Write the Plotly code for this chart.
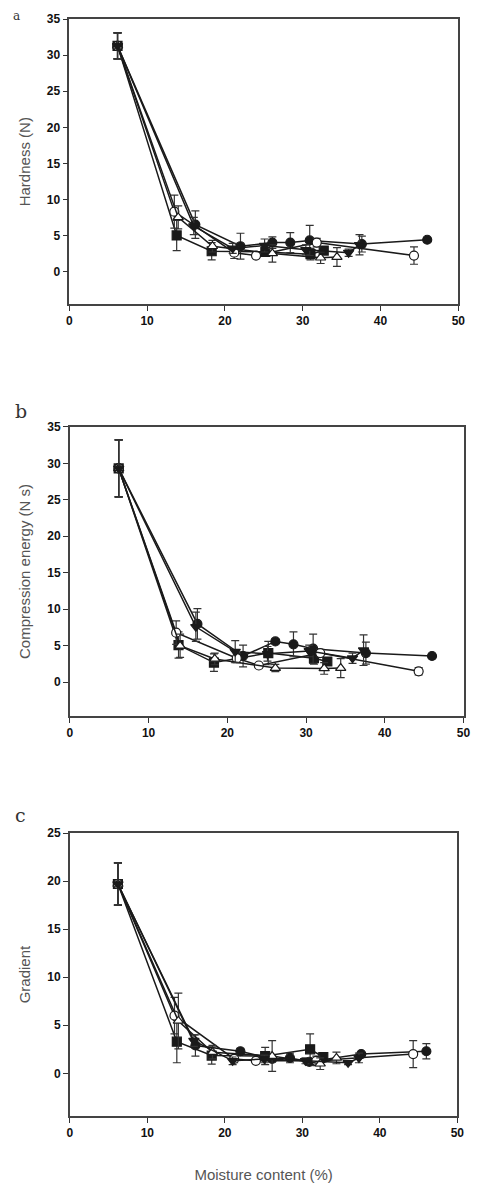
import plotly.graph_objects as go

# ---------------- data ----------------
# series x (moisture content, %)
x_sq = [6.2, 13.8, 18.3, 25.2, 31.0, 32.7]
x_ci = [6.2, 16.2, 22.0, 26.1, 28.4, 30.9, 37.6, 46.0]
x_oc = [6.2, 13.5, 21.2, 24.0, 31.8, 44.3]
x_ot = [6.2, 14.0, 18.4, 26.1, 32.3, 34.4]
x_dt = [6.2, 16.0, 21.0, 25.1, 30.4, 35.9, 37.3]

# panel a: Hardness (N)
a_sq = [31.3, 5.0, 2.8, 2.7, 2.4, 2.9]
a_sq_e = [1.8, 2.1, 1.2, 0.6, 0.8, 0.5]
a_ci = [31.3, 6.5, 3.5, 4.0, 4.0, 4.3, 3.8, 4.4]
a_ci_e = [1.8, 1.9, 1.8, 0.8, 1.4, 2.1, 1.1, 0.3]
a_oc = [31.3, 8.3, 2.6, 2.2, 4.0, 2.2]
a_oc_e = [1.8, 2.3, 0.8, 0.3, 0.6, 1.2]
a_ot = [31.3, 7.5, 3.5, 2.5, 1.9, 2.0]
a_ot_e = [1.8, 1.6, 0.8, 1.2, 0.8, 1.3]
a_dt = [31.3, 6.3, 3.2, 3.6, 3.0, 2.6, 3.7]
a_dt_e = [1.8, 1.2, 0.7, 0.9, 0.7, 0.5, 1.4]

# panel b: Compression energy (N s)
b_sq = [29.3, 5.1, 2.7, 4.0, 3.3, 2.85]
b_sq_e = [3.9, 1.8, 1.2, 1.6, 0.8, 0.4]
b_ci = [29.3, 8.0, 3.6, 5.6, 5.2, 4.6, 4.0, 3.6]
b_ci_e = [3.9, 2.1, 1.5, 0.3, 1.7, 2.0, 1.5, 0.3]
b_oc = [29.3, 6.8, 3.3, 2.3, 4.0, 1.5]
b_oc_e = [3.9, 1.6, 0.6, 0.3, 0.5, 0.5]
b_ot = [29.3, 5.0, 3.2, 1.95, 1.9, 1.95]
b_ot_e = [3.9, 1.6, 0.8, 0.5, 0.8, 1.3]
b_dt = [29.3, 7.6, 4.2, 3.9, 4.3, 3.3, 4.4]
b_dt_e = [3.9, 2.0, 1.5, 1.0, 0.8, 0.7, 2.1]

# panel c: Gradient
c_sq = [19.7, 3.3, 1.85, 1.8, 2.5, 1.7]
c_sq_e = [2.2, 2.2, 0.9, 0.9, 1.6, 0.3]
c_ci = [19.7, 2.9, 2.3, 1.5, 1.6, 1.2, 2.0, 2.3]
c_ci_e = [2.2, 1.1, 0.3, 0.3, 0.5, 0.3, 0.2, 0.8]
c_oc = [19.7, 6.0, 1.5, 1.3, 1.3, 2.0]
c_oc_e = [2.2, 1.9, 0.4, 0.2, 0.5, 1.4]
c_ot = [19.7, 5.45, 2.2, 1.8, 1.0, 1.6]
c_ot_e = [2.2, 2.9, 0.7, 1.6, 0.6, 0.6]
c_dt = [19.7, 3.4, 1.3, 1.5, 1.3, 1.1, 1.6]
c_dt_e = [2.2, 0.6, 0.4, 0.4, 0.3, 0.2, 0.5]

y_titles = ["Hardness (N)", "Compression energy (N s)", "Gradient"]
x_title = "Moisture content (%)"
panel_labels = ["a", "b", "c"]
x_ticks = [0, 10, 20, 30, 40, 50]
y_ticks_ab = [0, 5, 10, 15, 20, 25, 30, 35]
y_ticks_c = [0, 5, 10, 15, 20, 25]

# ---------------- layout geometry (pixels) ----------------
W, H = 481, 1184
boxes = [  # left, right, top, bottom in px
    (67.7, 465.0, 12.3, 299.0),
    (68.3, 470.3, 422.3, 713.3),
    (68.3, 464.0, 831.0, 1115.7),
]
y_ranges = [[-4.55, 35], [-4.63, 35], [-4.45, 25]]

LINE = "#1a1a1a"
ERR = "#333333"

styles = [
    dict(symbol="square", fill=LINE),
    dict(symbol="circle", fill=LINE),
    dict(symbol="circle", fill="white"),
    dict(symbol="triangle-up", fill="white"),
    dict(symbol="triangle-down", fill=LINE),
]
xs = [x_sq, x_ci, x_oc, x_ot, x_dt]
panels = [
    [(a_sq, a_sq_e), (a_ci, a_ci_e), (a_oc, a_oc_e), (a_ot, a_ot_e), (a_dt, a_dt_e)],
    [(b_sq, b_sq_e), (b_ci, b_ci_e), (b_oc, b_oc_e), (b_ot, b_ot_e), (b_dt, b_dt_e)],
    [(c_sq, c_sq_e), (c_ci, c_ci_e), (c_oc, c_oc_e), (c_ot, c_ot_e), (c_dt, c_dt_e)],
]

fig = go.Figure()
for p, series in enumerate(panels):
    xa = "x" if p == 0 else f"x{p+1}"
    ya = "y" if p == 0 else f"y{p+1}"
    for s, (ys, es) in enumerate(series):
        st = styles[s]
        fig.add_trace(go.Scatter(
            x=xs[s], y=ys, xaxis=xa, yaxis=ya, mode="lines+markers",
            line=dict(color=LINE, width=1.5),
            marker=dict(symbol=st["symbol"], size=9, color=st["fill"],
                        line=dict(color=LINE, width=1.2)),
            error_y=dict(type="data", array=es, visible=True, color=ERR,
                         thickness=1.2, width=4),
            showlegend=False, hoverinfo="skip",
        ))

tickfont = dict(family="Liberation Sans, Arial", size=12, color="#111")
titlefont = dict(family="Liberation Sans, Arial", size=15, color="#555")

def bold(vals):
    return [f"<b>{v}</b>" for v in vals]

layout = dict(
    width=W, height=H, margin=dict(l=0, r=0, t=0, b=0),
    paper_bgcolor="white", plot_bgcolor="white", showlegend=False,
)
for p, (l, r, t, b) in enumerate(boxes):
    xk = "xaxis" if p == 0 else f"xaxis{p+1}"
    yk = "yaxis" if p == 0 else f"yaxis{p+1}"
    ya = "y" if p == 0 else f"y{p+1}"
    xa = "x" if p == 0 else f"x{p+1}"
    yt = y_ticks_c if p == 2 else y_ticks_ab
    layout[xk] = dict(
        domain=[l / W, r / W], range=[0, 50], anchor=ya,
        tickvals=x_ticks, ticktext=bold(x_ticks),
        ticks="outside", ticklen=5, tickwidth=1, tickcolor="#333",
        showline=True, linecolor="#444", linewidth=1.5, mirror=True,
        showgrid=False, zeroline=False, tickfont=tickfont,
        title=dict(text=x_title if p == 2 else "", font=titlefont, standoff=30),
    )
    layout[yk] = dict(
        domain=[1 - b / H, 1 - t / H], range=y_ranges[p], anchor=xa,
        tickvals=yt, ticktext=bold(yt),
        ticks="outside", ticklen=5, tickwidth=1, tickcolor="#333",
        showline=True, linecolor="#444", linewidth=1.5, mirror=True,
        showgrid=False, zeroline=False, tickfont=tickfont,
        title=dict(text=y_titles[p], font=titlefont, standoff=13),
    )
fig.update_layout(**layout)

label_pos = [(14, 0), (18, 393), (18, 800)]
for lab, (px, py) in zip(panel_labels, label_pos):
    fig.add_annotation(
        text=lab, x=px / W, y=1 - py / H, xref="paper", yref="paper",
        xanchor="center", yanchor="top", showarrow=False,
        font=dict(family="DejaVu Serif, Liberation Serif, serif", size=19 if lab != "a" else 12, color="#333"),
    )

fig.write_html("out.html")
